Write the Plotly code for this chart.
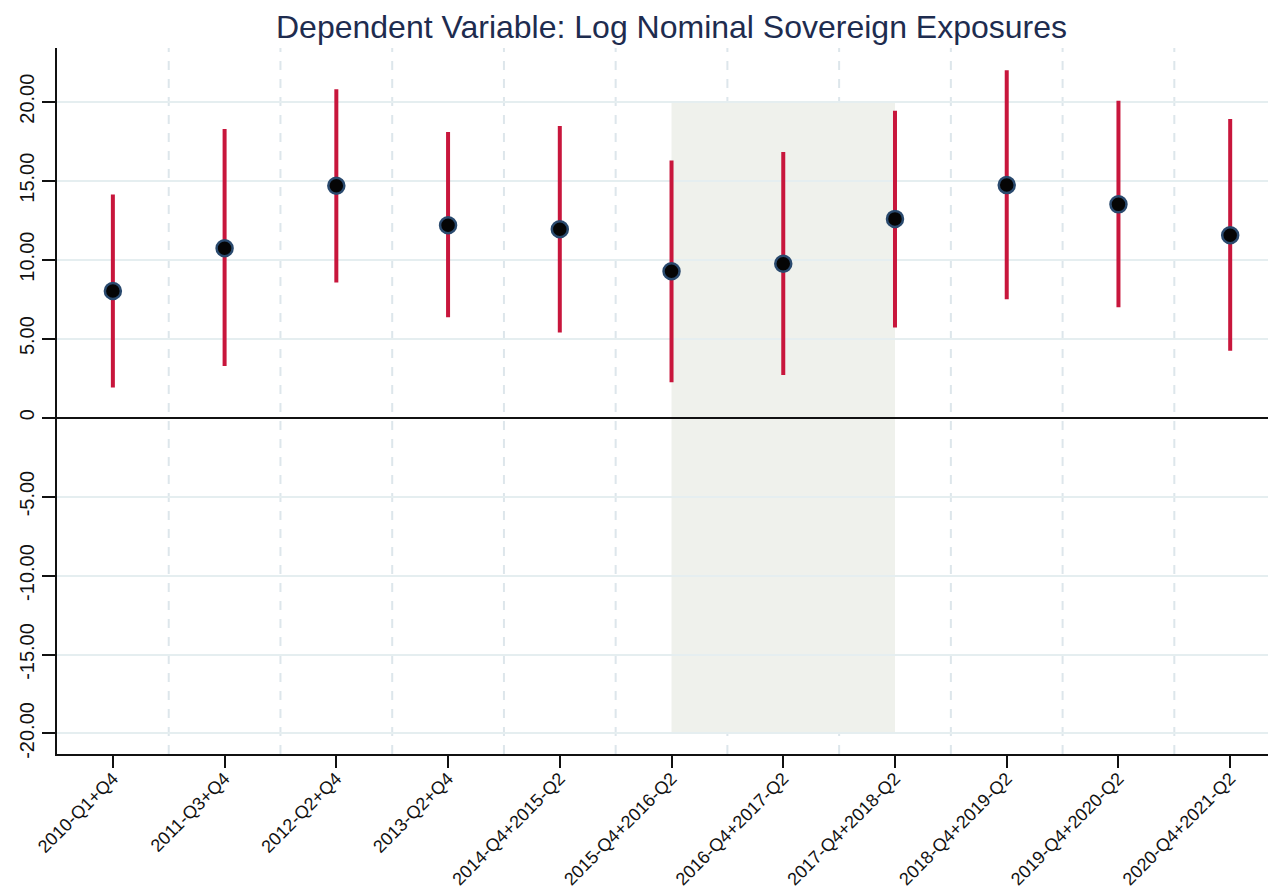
import plotly.graph_objects as go

categories = ["2010-Q1+Q4", "2011-Q3+Q4", "2012-Q2+Q4", "2013-Q2+Q4", "2014-Q4+2015-Q2",
              "2015-Q4+2016-Q2", "2016-Q4+2017-Q2", "2017-Q4+2018-Q2", "2018-Q4+2019-Q2",
              "2019-Q4+2020-Q2", "2020-Q4+2021-Q2"]
estimates = [8.01, 10.72, 14.68, 12.18, 11.92, 9.27, 9.74, 12.58, 14.72, 13.50, 11.54]
ci_upper = [14.12, 18.27, 20.79, 18.08, 18.46, 16.28, 16.81, 19.42, 21.99, 20.06, 18.91]
ci_lower = [1.90, 3.27, 8.55, 6.35, 5.38, 2.24, 2.69, 5.70, 7.50, 6.99, 4.23]
y_tickvals = [20, 15, 10, 5, 0, -5, -10, -15, -20]
y_ticktext = ["20.00", "15.00", "10.00", "5.00", "0", "-5.00", "-10.00", "-15.00", "-20.00"]
shade_range = [5, 7]
shade_y = [-20, 20]

xs = list(range(len(categories)))
err_plus = [u - e for u, e in zip(ci_upper, estimates)]
err_minus = [e - l for e, l in zip(estimates, ci_lower)]

fig = go.Figure()
fig.add_trace(go.Scatter(
    x=xs, y=estimates, mode="markers",
    marker=dict(size=16, color="#050505", line=dict(color="#2a4a6e", width=2.5)),
    error_y=dict(type="data", symmetric=False, array=err_plus, arrayminus=err_minus,
                 color="#c8163c", thickness=4, width=0),
    showlegend=False,
))

shapes = [dict(type="rect", xref="x", yref="y", x0=shade_range[0], x1=shade_range[1],
               y0=shade_y[0], y1=shade_y[1], fillcolor="#eff1ec", line=dict(width=0),
               layer="below")]
for i in range(len(categories) - 1):
    shapes.append(dict(type="line", xref="x", yref="paper", x0=i + 0.5, x1=i + 0.5,
                       y0=0, y1=1, line=dict(color="#dde6eb", width=2, dash="dash"),
                       layer="between"))
fig.update_layout(shapes=shapes)

font = "Liberation Sans, Arial, Helvetica, sans-serif"
W, H = 1268, 883  # page body adds an 8px offset
fig.update_layout(
    width=W, height=H,
    margin=dict(l=49, r=0, t=40, b=137, autoexpand=False),
    paper_bgcolor="white", plot_bgcolor="white",
    title=dict(text="Dependent Variable: Log Nominal Sovereign Exposures",
               x=(671.5 - 8) / W, xanchor="center", y=1 - 19 / H, yanchor="middle",
               font=dict(family=font, size=32, color="#1e2c4f")),
    xaxis=dict(range=[-0.5, 10.41], tickvals=xs, ticktext=categories, tickangle=-45,
               automargin=False, ticklabelstandoff=-7,
               showgrid=False, zeroline=False, showline=True, linecolor="#111111",
               linewidth=2, ticks="outside", ticklen=12, tickwidth=2, tickcolor="#111111",
               tickfont=dict(family=font, size=18, color="#111111")),
    yaxis=dict(range=[-21.3, 23.4], tickvals=y_tickvals, ticktext=y_ticktext, tickangle=-90,
               automargin=False,
               showgrid=True, gridcolor="#e5eef0", gridwidth=2,
               zeroline=True, zerolinecolor="#111111", zerolinewidth=2,
               showline=True, linecolor="#111111", linewidth=2,
               ticks="outside", ticklen=13, tickwidth=2, tickcolor="#111111",
               tickfont=dict(family=font, size=20, color="#111111")),
)

fig.write_html("out.html")
